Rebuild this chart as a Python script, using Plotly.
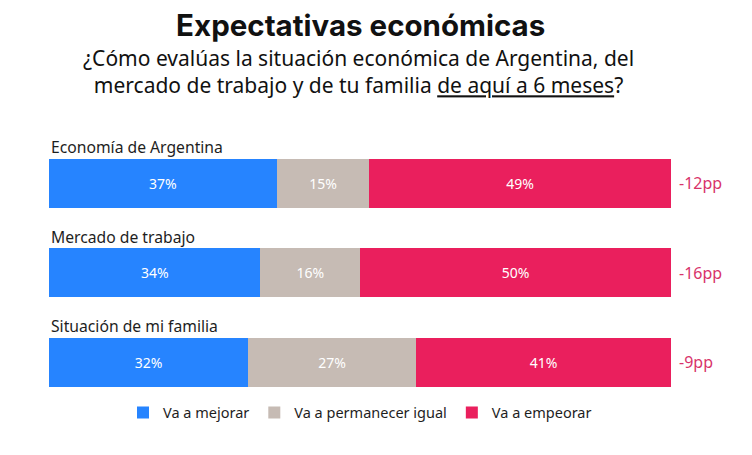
import plotly.graph_objects as go

categorias = ["Economía de Argentina", "Mercado de trabajo", "Situación de mi familia"]
mejorar = [37, 34, 32]
igual = [15, 16, 27]
empeorar = [49, 50, 41]
series = ["Va a mejorar", "Va a permanecer igual", "Va a empeorar"]
colores = ["#2684ff", "#c6bbb4", "#ea1f5d"]
subtitulo = ["¿Cómo evalúas la situación económica de Argentina, del",
             "mercado de trabajo y de tu familia <u>de aquí a 6 meses</u>?"]

neto = [f"{m - e}pp" for m, e in zip(mejorar, empeorar)]

fig = go.Figure()
for nombre, valores, color in zip(series, [mejorar, igual, empeorar], colores):
    fig.add_trace(go.Bar(
        y=categorias, x=valores, name=nombre, orientation="h",
        marker=dict(color=color, line=dict(width=0)),
        width=0.55,
        text=[f"{v}%" for v in valores], textposition="inside",
        insidetextanchor="middle",
        textfont=dict(color="white", size=14, family="Noto Sans"),
        hoverinfo="skip",
    ))

for cat, n in zip(categorias, neto):
    # nombre de la categoría sobre la barra
    fig.add_annotation(x=0, xref="paper", y=cat, yref="y", yshift=36,
                       text=cat, showarrow=False, xanchor="left",
                       font=dict(size=15.7, color="#1e1e1e", family="Noto Sans"))
    # diferencia neta a la derecha
    fig.add_annotation(x=1, xref="paper", y=cat, yref="y", xshift=6,
                       text=n, showarrow=False, xanchor="left",
                       font=dict(size=16, color="#d8336a", family="Noto Sans"))

fig.add_annotation(
    x=0.498, xref="paper", y=1.1036, yref="paper", yanchor="middle",
    text="<br>".join(subtitulo), showarrow=False, align="center",
    font=dict(size=21, color="#111", family="Noto Sans"),
)

fig.update_layout(
    width=752, height=455,
    barmode="stack", barnorm="percent",
    plot_bgcolor="white", paper_bgcolor="white",
    margin=dict(l=41, r=89, t=95, b=56),
    title=dict(
        text="<b>Expectativas económicas</b>",
        x=0.469, xanchor="center", y=0.962, yanchor="middle",
        font=dict(size=29.5, color="#111", family="Inter"),
    ),
    xaxis=dict(visible=False, range=[0, 100], fixedrange=True),
    yaxis=dict(visible=False, autorange=False, range=[2.5, -0.9],
               categoryorder="array", categoryarray=categorias),
    legend=dict(orientation="h", x=0.5, xanchor="center", y=-0.018, yanchor="middle",
                font=dict(size=14.5, color="#1e1e1e", family="Noto Sans"),
                traceorder="normal", itemwidth=30),
    showlegend=True,
)

fig.write_html("out.html")
